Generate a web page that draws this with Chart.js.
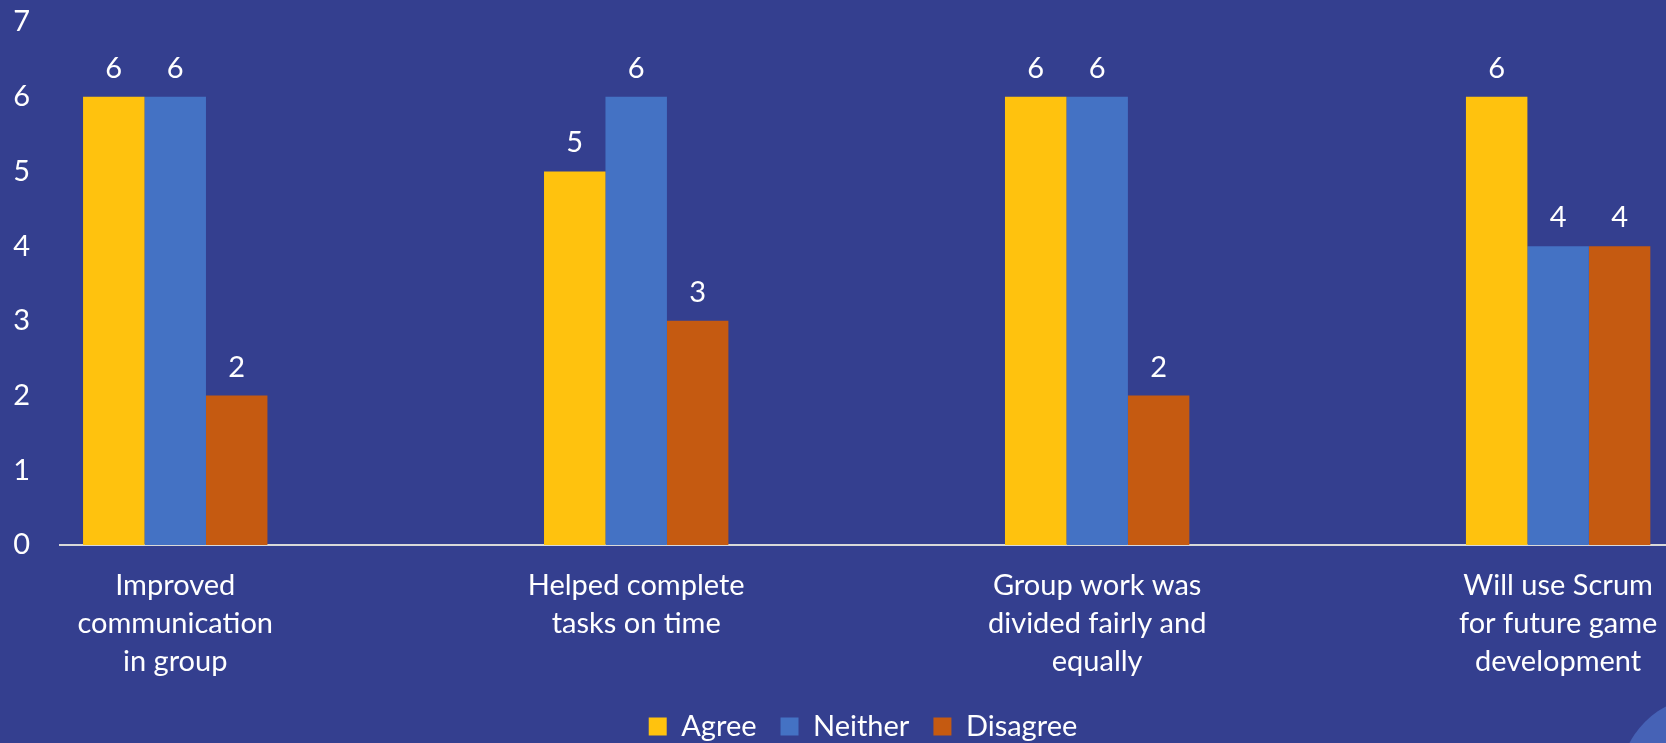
<!DOCTYPE html>
<html>
<head>
<meta charset="utf-8">
<script src="https://cdn.jsdelivr.net/npm/chart.js@4.4.0/dist/chart.umd.min.js"></script>
<style>
  html, body { margin: 0; padding: 0; background: #343f8f; overflow: hidden; }
  #wrap { position: relative; width: 1666px; height: 743px; }
</style>
</head>
<body>
<div id="wrap"><canvas id="scrum-chart"></canvas></div>
<script>
const categories = [
  ['Improved', 'communication', 'in group'],
  ['Helped complete', 'tasks on time'],
  ['Group work was', 'divided fairly and', 'equally'],
  ['Will use Scrum', 'for future game', 'development']
];
const agree = [6, 5, 6, 6];
const neither = [6, 6, 6, 4];
const disagree = [2, 3, 2, 4];
const yTicks = [0, 1, 2, 3, 4, 5, 6, 7];

const FONT = 'Lato, Calibri, "Noto Sans", sans-serif';

function toPoints(values) {
  return values.map((v, i) => ({ x: i, y: v }));
}

// values printed above each bar
const barValues = {
  id: 'barValues',
  afterDatasetsDraw(chart) {
    const ctx = chart.ctx;
    ctx.save();
    ctx.fillStyle = '#ffffff';
    ctx.font = '29px ' + FONT;
    ctx.textAlign = 'center';
    ctx.textBaseline = 'alphabetic';
    chart.data.datasets.forEach((ds, di) => {
      chart.getDatasetMeta(di).data.forEach((bar, i) => {
        ctx.fillText(String(ds.data[i].y), bar.x, bar.y - 19);
      });
    });
    ctx.restore();
  }
};

// lighter blob in the lower right corner of the slide
const cornerShape = {
  id: 'cornerShape',
  beforeDraw(chart) {
    const ctx = chart.ctx;
    ctx.save();
    ctx.fillStyle = '#4662b6';
    ctx.beginPath();
    ctx.arc(1705, 782, 85, 0, Math.PI * 2);
    ctx.fill();
    ctx.restore();
  }
};

function noScalePadding(scale) {
  scale.paddingTop = 0;
  scale.paddingBottom = 0;
  scale.paddingLeft = 0;
  scale.paddingRight = 0;
}

new Chart(document.getElementById('scrum-chart'), {
  type: 'bar',
  data: {
    datasets: [
      { label: 'Agree', data: toPoints(agree), backgroundColor: '#ffc20e' },
      { label: 'Neither', data: toPoints(neither), backgroundColor: '#4472c4' },
      { label: 'Disagree', data: toPoints(disagree), backgroundColor: '#c55a11' }
    ]
  },
  options: {
    responsive: true,
    maintainAspectRatio: false,
    animation: false,
    categoryPercentage: 0.4,
    barPercentage: 1.0,
    layout: { padding: { top: 22, right: 0, bottom: -8, left: 0 } },
    plugins: {
      legend: {
        position: 'bottom',
        fullSize: false,
        labels: {
          color: '#ffffff',
          boxWidth: 18,
          boxHeight: 18,
          padding: 24,
          font: { family: FONT, size: 29 }
        }
      },
      tooltip: { enabled: false }
    },
    scales: {
      x: {
        type: 'linear',
        offset: false,
        min: -0.25,
        max: 3.234,
        afterBuildTicks(scale) {
          scale.ticks = categories.map((c, i) => ({ value: i }));
        },
        afterFit(scale) {
          scale.height = 143;
          noScalePadding(scale);
        },
        grid: { display: false, drawTicks: false },
        border: { display: true, color: '#d9d9d9', width: 2 },
        ticks: {
          color: '#ffffff',
          padding: 22,
          maxRotation: 0,
          autoSkip: false,
          font: { family: FONT, size: 29, lineHeight: 38 / 29 },
          callback: (v) => categories[v]
        }
      },
      y: {
        min: 0,
        max: 7,
        afterBuildTicks(scale) {
          scale.ticks = yTicks.map(v => ({ value: v }));
        },
        afterFit(scale) {
          scale.width = 60;
          noScalePadding(scale);
        },
        grid: { display: false, drawTicks: false },
        border: { display: false },
        ticks: {
          color: '#ffffff',
          padding: 30,
          font: { family: FONT, size: 29 }
        }
      }
    }
  },
  plugins: [cornerShape, barValues]
});
</script>
</body>
</html>
